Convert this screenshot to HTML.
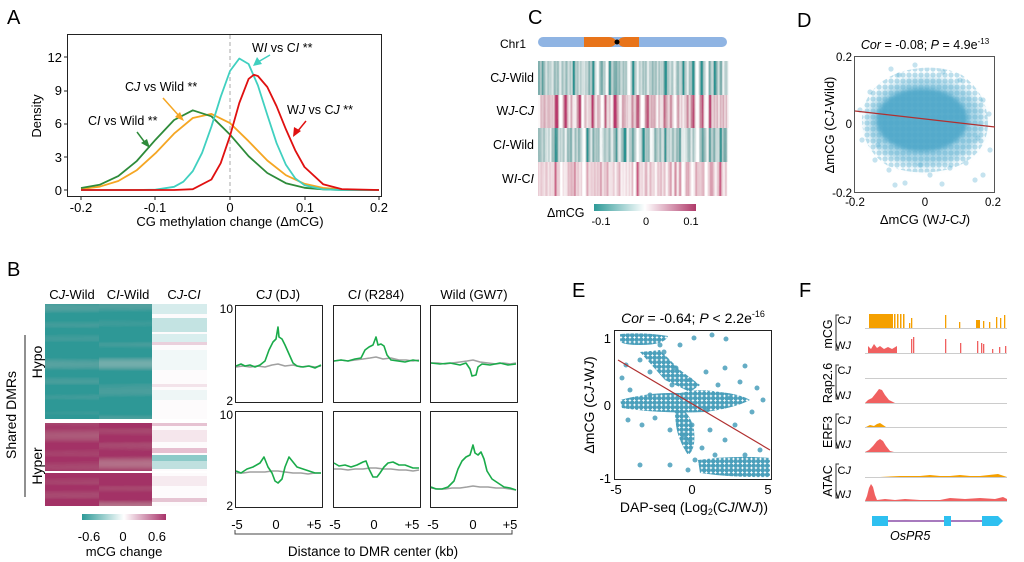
<!DOCTYPE html>
<html><head><meta charset="utf-8"><style>
html,body{margin:0;padding:0;background:#fff}
svg{display:block;font-family:"Liberation Sans",Arial,sans-serif}
</style></head><body>
<svg width="1024" height="562" viewBox="0 0 1024 562" xmlns="http://www.w3.org/2000/svg">
<defs>
<linearGradient id="gb" x1="0" x2="1"><stop offset="0" stop-color="#2e9a98"/><stop offset="0.5" stop-color="#fff"/><stop offset="1" stop-color="#a8336a"/></linearGradient>
<linearGradient id="gc" x1="0" x2="1"><stop offset="0" stop-color="#2e9a98"/><stop offset="0.5" stop-color="#fff"/><stop offset="1" stop-color="#b03a6a"/></linearGradient>
<filter id="sx1" x="0" y="0" width="1" height="1"><feTurbulence type="fractalNoise" baseFrequency="0.22 0.0005" numOctaves="2" seed="3"/><feColorMatrix type="matrix" values="0 0 0 0 1 0 0 0 0 1 0 0 0 0 1 2.6 0 0 0 -0.85"/><feComposite in2="SourceGraphic" operator="atop"/></filter>
<filter id="sx2" x="0" y="0" width="1" height="1"><feTurbulence type="fractalNoise" baseFrequency="0.22 0.0005" numOctaves="2" seed="11"/><feColorMatrix type="matrix" values="0 0 0 0 1 0 0 0 0 1 0 0 0 0 1 2.6 0 0 0 -0.8"/><feComposite in2="SourceGraphic" operator="atop"/></filter>
<filter id="sx3" x="0" y="0" width="1" height="1"><feTurbulence type="fractalNoise" baseFrequency="0.22 0.0005" numOctaves="2" seed="25"/><feColorMatrix type="matrix" values="0 0 0 0 1 0 0 0 0 1 0 0 0 0 1 2.6 0 0 0 -0.85"/><feComposite in2="SourceGraphic" operator="atop"/></filter>
<filter id="sx4" x="0" y="0" width="1" height="1"><feTurbulence type="fractalNoise" baseFrequency="0.22 0.0005" numOctaves="2" seed="40"/><feColorMatrix type="matrix" values="0 0 0 0 1 0 0 0 0 1 0 0 0 0 1 2.4 0 0 0 -0.6"/><feComposite in2="SourceGraphic" operator="atop"/></filter>
<filter id="sy1" x="0" y="0" width="1" height="1"><feTurbulence type="fractalNoise" baseFrequency="0.0005 0.07" numOctaves="1" seed="5"/><feColorMatrix type="matrix" values="0 0 0 0 1 0 0 0 0 1 0 0 0 0 1 0.6 0 0 0 -0.3"/><feComposite in2="SourceGraphic" operator="atop"/></filter>
<filter id="sy2" x="0" y="0" width="1" height="1"><feTurbulence type="fractalNoise" baseFrequency="0.0005 0.07" numOctaves="1" seed="9"/><feColorMatrix type="matrix" values="0 0 0 0 1 0 0 0 0 1 0 0 0 0 1 0.6 0 0 0 -0.3"/><feComposite in2="SourceGraphic" operator="atop"/></filter>
<filter id="bl3"><feGaussianBlur stdDeviation="4"/></filter>
<filter id="bl2"><feGaussianBlur stdDeviation="2"/></filter>
<pattern id="dp" width="4.5" height="4.5" patternUnits="userSpaceOnUse"><circle cx="2.2" cy="2.2" r="2.3" fill="#4a9fbb"/></pattern>
<pattern id="dq" width="6" height="6" patternUnits="userSpaceOnUse"><circle cx="3" cy="3" r="2.6" fill="#5aaed0" fill-opacity="0.4"/></pattern>
<clipPath id="cd"><rect x="855" y="57" width="139" height="135"/></clipPath>
</defs>
<g font-size="20"><text x="7" y="24">A</text><text x="7" y="276">B</text><text x="528" y="24">C</text><text x="797" y="27">D</text><text x="572" y="297">E</text><text x="799" y="297">F</text></g>

<!-- Panel A -->
<rect x="67.5" y="34.5" width="314" height="162" fill="none" stroke="#222"/>
<line x1="230" y1="35" x2="230" y2="196" stroke="#aaa" stroke-dasharray="4,3"/>
<g fill="none" stroke-width="1.8" stroke-linejoin="round">
<polyline stroke="#f5a623" points="81,189 99.6,186.7 118.3,181 136.9,170.1 155.5,153.2 174.1,133.6 192.8,118 211.4,113.9 230,123.1 248.6,141.2 267.3,160.5 285.9,175.2 304.5,183.8 323.1,187.9 341.8,189.4 360.4,190 379,190"/>
<polyline stroke="#2e8b3a" points="81,188 99.6,184.8 118.3,176.1 136.9,160.9 155.5,139.7 174.1,120 192.8,110.3 211.4,116.3 230,134.6 248.6,156.2 267.3,173 285.9,183.2 304.5,187.8 323.1,189.4 341.8,190 379,190"/>
<polyline stroke="#40d0c0" points="81,190 136.9,190 155.5,189.7 174.1,186.8 183.4,181.7 192.8,171.1 202.1,152.8 211.4,126.7 220.7,96.8 230,71 239.3,58.5 248.6,64 257.9,85.4 267.3,114.9 276.6,143.2 285.9,164.8 295.2,178.3 304.5,185.2 323.1,189.4 341.8,190 379,190"/>
<polyline stroke="#e01010" points="81,190 174.1,190 192.8,189.2 211.4,179.5 220.7,163.2 230,135.9 239.3,103 248.6,78.9 253.8,74.8 257.9,76 267.3,87 276.6,106.3 285.9,129.3 295.2,150.3 304.5,167 323.1,184.2 341.8,189.1 379,190"/>
</g>
<g font-size="13" text-anchor="end">
<text x="62" y="195">0</text><text x="62" y="162">3</text><text x="62" y="128">6</text><text x="62" y="95">9</text><text x="62" y="62">12</text>
</g>
<g stroke="#222"><line x1="64" y1="190" x2="67" y2="190"/><line x1="64" y1="157" x2="67" y2="157"/><line x1="64" y1="124" x2="67" y2="124"/><line x1="64" y1="91" x2="67" y2="91"/><line x1="64" y1="57" x2="67" y2="57"/>
<line x1="81" y1="197" x2="81" y2="200"/><line x1="155" y1="197" x2="155" y2="200"/><line x1="230" y1="197" x2="230" y2="200"/><line x1="305" y1="197" x2="305" y2="200"/><line x1="379" y1="197" x2="379" y2="200"/></g>
<g font-size="13" text-anchor="middle">
<text x="81" y="212">-0.2</text><text x="155" y="212">-0.1</text><text x="230" y="212">0</text><text x="305" y="212">0.1</text><text x="379" y="212">0.2</text>
<text x="230" y="226">CG methylation change (ΔmCG)</text>
<text transform="translate(41,116) rotate(-90)">Density</text>
</g>
<g font-size="12.5">
<text x="88" y="125">C<tspan font-style="italic">I</tspan> vs Wild **</text>
<text x="125" y="91">C<tspan font-style="italic">J</tspan> vs Wild **</text>
<text x="252" y="52">W<tspan font-style="italic">I</tspan> vs C<tspan font-style="italic">I</tspan> **</text>
<text x="287" y="114">W<tspan font-style="italic">J</tspan> vs C<tspan font-style="italic">J</tspan> **</text>
</g>
<g stroke-width="1.5">
<line x1="137" y1="132" x2="146" y2="144" stroke="#2e8b3a"/><polygon points="150,148 141,143 147,139" fill="#2e8b3a"/>
<line x1="163" y1="98" x2="180" y2="117" stroke="#f5a623"/><polygon points="184,121 175,117 180,112" fill="#f5a623"/>
<line x1="270" y1="55" x2="258" y2="62" stroke="#40d0c0"/><polygon points="253,66 257,57 262,64" fill="#40d0c0"/>
<line x1="306" y1="121" x2="297" y2="132" stroke="#e01010"/><polygon points="293,137 294,127 301,131" fill="#e01010"/>
</g>

<!-- Panel B heatmap -->
<rect x="45" y="304" width="54" height="115" fill="#2e9896" filter="url(#sy1)"/>
<rect x="99" y="304" width="53" height="115" fill="#2e9896" filter="url(#sy2)"/>
<rect x="45" y="423" width="54" height="83" fill="#a33366" filter="url(#sy2)"/>
<rect x="99" y="423" width="53" height="83" fill="#a33366" filter="url(#sy1)"/>
<rect x="152" y="304" width="55" height="202" fill="#fdfbfc"/>
<g>
<rect x="152" y="304" width="55" height="10" fill="#d6ecec"/><rect x="152" y="318" width="55" height="14" fill="#c3e3e2"/><rect x="152" y="334" width="55" height="8" fill="#d9eeee"/><rect x="152" y="342" width="55" height="3" fill="#ead0dc"/>
<rect x="152" y="350" width="55" height="20" fill="#f1f8f8"/><rect x="152" y="384" width="55" height="3" fill="#f3e3ea"/><rect x="152" y="390" width="55" height="10" fill="#eef6f6"/>
<rect x="152" y="423" width="55" height="3" fill="#e6c2d2"/><rect x="152" y="430" width="55" height="12" fill="#f5e6ec"/><rect x="152" y="448" width="55" height="5" fill="#e6bfd0"/><rect x="152" y="455" width="55" height="6" fill="#8ccac8"/><rect x="152" y="461" width="55" height="8" fill="#bfe0df"/>
<rect x="152" y="476" width="55" height="10" fill="#f6eaef"/><rect x="152" y="498" width="55" height="4" fill="#e6c5d3"/>
</g>
<rect x="45" y="419" width="162" height="4" fill="#fff"/>
<rect x="45" y="471" width="162" height="2" fill="#fff"/>
<g font-size="13" text-anchor="middle">
<text x="72" y="299">C<tspan font-style="italic">J</tspan>-Wild</text>
<text x="128" y="299">C<tspan font-style="italic">I</tspan>-Wild</text>
<text x="184" y="299">C<tspan font-style="italic">J</tspan>-C<tspan font-style="italic">I</tspan></text>
<text transform="translate(42,362) rotate(-90)" font-size="14">Hypo</text>
<text transform="translate(42,466) rotate(-90)" font-size="14">Hyper</text>
<text transform="translate(16,415) rotate(-90)" font-size="14">Shared DMRs</text>
<text x="89" y="541">-0.6</text><text x="123" y="541">0</text><text x="157" y="541">0.6</text>
<text x="124" y="556">mCG change</text>
</g>
<line x1="25" y1="335" x2="25" y2="497" stroke="#222"/>
<rect x="82" y="514" width="84" height="6" fill="url(#gb)"/>

<!-- Panel B line plots -->
<g fill="none" stroke-width="1.6" stroke-linejoin="round">
<g transform="translate(235,305)"><rect x="0.5" y="0.5" width="87" height="97" stroke="#222" stroke-width="1"/>
<polyline stroke="#a0a0a0" points="1,62 8,61 15,62 22,61 30,62 37,60 43,59 50,61 58,60 66,62 73,61 80,62 86,61"/>
<polyline stroke="#1aab4a" points="1,61 6,59 10,61 15,60 20,62 25,60 30,56 34,45 38,37 41,34 43,22 44,32 47,34 50,40 54,49 58,58 62,61 68,62 74,61 80,63 86,60"/></g>
<g transform="translate(333,305)"><rect x="0.5" y="0.5" width="87" height="97" stroke="#222" stroke-width="1"/>
<polyline stroke="#a0a0a0" points="1,56 8,55 15,56 22,55 30,54 37,53 43,52 50,54 58,53 66,55 73,55 80,56 86,55"/>
<polyline stroke="#1aab4a" points="1,56 8,55 15,56 22,54 28,53 32,45 36,42 40,40 43,32 45,40 48,39 51,41 54,50 58,55 65,56 72,57 80,55 86,56"/></g>
<g transform="translate(430,305)"><rect x="0.5" y="0.5" width="87" height="97" stroke="#222" stroke-width="1"/>
<polyline stroke="#a0a0a0" points="1,58 8,58 15,59 22,58 30,57 37,56 43,55 50,57 58,58 66,59 73,58 80,59 86,58"/>
<polyline stroke="#1aab4a" points="1,58 10,59 20,58 30,60 36,58 40,64 42,71 46,70 48,62 52,59 60,60 70,58 78,60 86,59"/></g>
<g transform="translate(235,411)"><rect x="0.5" y="0.5" width="87" height="96" stroke="#222" stroke-width="1"/>
<polyline stroke="#a0a0a0" points="1,62 8,62 15,61 22,61 30,61 37,60 43,60 50,61 58,62 66,62 73,63 80,62 86,62"/>
<polyline stroke="#1aab4a" points="1,60 6,62 12,58 18,56 25,52 29,46 33,56 37,62 40,70 43,72 47,68 50,56 54,46 58,51 62,56 68,58 74,60 80,62 86,62"/></g>
<g transform="translate(333,411)"><rect x="0.5" y="0.5" width="87" height="96" stroke="#222" stroke-width="1"/>
<polyline stroke="#a0a0a0" points="1,58 8,58 15,59 22,58 30,58 37,57 43,57 50,58 58,58 66,59 73,59 80,60 86,59"/>
<polyline stroke="#1aab4a" points="1,52 6,55 12,54 18,56 24,54 30,51 33,50 36,58 40,66 44,66 47,62 51,56 55,52 60,51 66,54 72,54 80,57 86,57"/></g>
<g transform="translate(430,411)"><rect x="0.5" y="0.5" width="87" height="96" stroke="#222" stroke-width="1"/>
<polyline stroke="#a0a0a0" points="1,77 8,78 15,78 22,77 30,77 37,76 43,75 50,76 58,76 66,77 73,77 80,78 86,79"/>
<polyline stroke="#1aab4a" points="1,76 6,78 12,78 18,76 24,70 28,58 32,50 36,46 40,44 43,34 45,42 48,44 51,41 54,48 57,60 62,68 68,72 74,76 80,77 86,79"/></g>
</g>
<g font-size="13" text-anchor="middle">
<text x="278" y="299">C<tspan font-style="italic">J</tspan> (DJ)</text>
<text x="376" y="299">C<tspan font-style="italic">I</tspan> (R284)</text>
<text x="474" y="299">Wild (GW7)</text>
<text x="237" y="529">-5</text><text x="276" y="529">0</text><text x="314" y="529">+5</text>
<text x="335" y="529">-5</text><text x="374" y="529">0</text><text x="412" y="529">+5</text>
<text x="433" y="529">-5</text><text x="473" y="529">0</text><text x="510" y="529">+5</text>
<text x="373" y="556" font-size="13.5">Distance to DMR center (kb)</text>
</g>
<g font-size="12" text-anchor="end"><text x="233" y="313">10</text><text x="233" y="405">2</text><text x="233" y="419">10</text><text x="233" y="510">2</text></g>
<path d="M235,530 V534 H512 V530" fill="none" stroke="#444"/>

<!-- Panel C -->
<text x="500" y="48" font-size="12">Chr1</text>
<rect x="538" y="37" width="189" height="10" rx="5" fill="#8fb4e3"/>
<path d="M584,37 H609 Q614,37 617,42 Q620,37 625,37 H639 V47 H625 Q620,47 617,42 Q614,47 609,47 H584Z" fill="#e8741a"/>
<circle cx="617" cy="42" r="2.5" fill="#000"/>
<rect x="538" y="61" width="191" height="34" fill="#2a9290" filter="url(#sx1)"/>
<rect x="538" y="95" width="191" height="33" fill="#b8386c" filter="url(#sx2)"/>
<rect x="538" y="128" width="191" height="34" fill="#2a9290" filter="url(#sx3)"/>
<rect x="538" y="162" width="191" height="34" fill="#c8557f" filter="url(#sx4)"/>
<g font-size="12.5" text-anchor="end">
<text x="534" y="82">C<tspan font-style="italic">J</tspan>-Wild</text>
<text x="534" y="115">W<tspan font-style="italic">J</tspan>-C<tspan font-style="italic">J</tspan></text>
<text x="534" y="149">C<tspan font-style="italic">I</tspan>-Wild</text>
<text x="534" y="183">W<tspan font-style="italic">I</tspan>-C<tspan font-style="italic">I</tspan></text>
</g>
<rect x="594" y="204" width="102" height="7" fill="url(#gc)"/>
<text x="547" y="217" font-size="12.5">ΔmCG</text>
<g font-size="11" text-anchor="middle"><text x="601" y="225">-0.1</text><text x="646" y="225">0</text><text x="691" y="225">0.1</text></g>

<!-- Panel D -->
<g clip-path="url(#cd)">
<path d="M862,118 Q864,86 900,72 Q935,62 962,75 Q988,94 988,125 Q986,156 953,168 Q920,178 888,166 Q862,150 862,118Z" fill="url(#dq)"/>
<ellipse cx="925" cy="122" rx="58" ry="44" fill="#5aaed0" fill-opacity="0.5" filter="url(#bl3)"/>
<ellipse cx="922" cy="120" rx="46" ry="32" fill="#4aa6c8" fill-opacity="0.85" filter="url(#bl2)"/>
<g fill="#5aaed0" fill-opacity="0.35">
<circle cx="891" cy="69" r="2.6"/><circle cx="899" cy="75" r="2.6"/><circle cx="943" cy="72" r="2.6"/><circle cx="960" cy="80" r="2.6"/><circle cx="983" cy="100" r="2.6"/><circle cx="989" cy="114" r="2.6"/><circle cx="870" cy="92" r="2.6"/><circle cx="862" cy="140" r="2.6"/><circle cx="875" cy="160" r="2.6"/><circle cx="889" cy="170" r="2.6"/><circle cx="905" cy="183" r="2.6"/><circle cx="930" cy="175" r="2.6"/><circle cx="950" cy="168" r="2.6"/><circle cx="966" cy="163" r="2.6"/><circle cx="983" cy="175" r="2.6"/><circle cx="990" cy="150" r="2.6"/><circle cx="878" cy="145" r="2.6"/><circle cx="920" cy="165" r="2.6"/><circle cx="915" cy="65" r="2.6"/><circle cx="978" cy="138" r="2.6"/><circle cx="860" cy="110" r="2.6"/><circle cx="895" cy="185" r="2.6"/><circle cx="942" cy="184" r="2.6"/><circle cx="975" cy="180" r="2.6"/>
</g></g>
<rect x="854.5" y="56.5" width="140" height="136" fill="none" stroke="#555"/>
<line x1="855" y1="111" x2="995" y2="127" stroke="#b03030" stroke-width="1.2"/>
<text x="925" y="49" font-size="12.5" text-anchor="middle"><tspan font-style="italic">Cor</tspan> = -0.08; <tspan font-style="italic">P</tspan> = 4.9e<tspan font-size="8" dy="-5">-13</tspan></text>
<g font-size="11.5" text-anchor="end"><text x="852" y="61">0.2</text><text x="852" y="128">0</text><text x="852" y="197">-0.2</text></g>
<g font-size="11.5" text-anchor="middle"><text x="855" y="206">-0.2</text><text x="925" y="206">0</text><text x="993" y="206">0.2</text>
<text x="925" y="224" font-size="13">ΔmCG (W<tspan font-style="italic">J</tspan>-C<tspan font-style="italic">J</tspan>)</text>
<text transform="translate(834,125) rotate(-90)" font-size="13">ΔmCG (C<tspan font-style="italic">J</tspan>-Wild)</text></g>

<!-- Panel E -->
<g fill="url(#dp)">
<path d="M620,400 Q650,392 680,393 Q700,388 720,392 Q740,394 750,400 Q735,408 705,412 Q660,414 622,408Z"/>
<path d="M674,405 Q690,410 694,430 Q696,450 688,455 Q678,440 676,425Z"/>
<path d="M698,460 Q735,455 770,458 L770,477 Q735,478 700,473Z"/>
<path d="M620,334 Q645,332 668,336 Q665,345 640,345 Q625,345 620,342Z"/>
<path d="M640,352 L660,350 L680,370 L700,385 L690,392 L665,380Z"/>
</g>
<g fill="#4a9fbb" fill-opacity="0.85">
<circle cx="626" cy="365" r="2.5"/><circle cx="622" cy="378" r="2.5"/><circle cx="630" cy="390" r="2.5"/><circle cx="640" cy="360" r="2.5"/><circle cx="650" cy="372" r="2.5"/><circle cx="664" cy="352" r="2.5"/><circle cx="672" cy="385" r="2.5"/><circle cx="680" cy="345" r="2.5"/><circle cx="694" cy="338" r="2.5"/><circle cx="712" cy="335" r="2.5"/><circle cx="726" cy="339" r="2.5"/><circle cx="706" cy="372" r="2.5"/><circle cx="718" cy="385" r="2.5"/><circle cx="740" cy="382" r="2.5"/><circle cx="757" cy="388" r="2.5"/><circle cx="763" cy="400" r="2.5"/><circle cx="752" cy="412" r="2.5"/><circle cx="735" cy="425" r="2.5"/><circle cx="725" cy="440" r="2.5"/><circle cx="710" cy="430" r="2.5"/><circle cx="702" cy="448" r="2.5"/><circle cx="670" cy="430" r="2.5"/><circle cx="655" cy="418" r="2.5"/><circle cx="642" cy="425" r="2.5"/><circle cx="628" cy="420" r="2.5"/><circle cx="695" cy="460" r="2.5"/><circle cx="688" cy="470" r="2.5"/><circle cx="670" cy="465" r="2.5"/><circle cx="640" cy="465" r="2.5"/><circle cx="660" cy="345" r="2.5"/><circle cx="676" cy="368" r="2.5"/><circle cx="690" cy="380" r="2.5"/><circle cx="745" cy="455" r="2.5"/><circle cx="760" cy="450" r="2.5"/><circle cx="715" cy="455" r="2.5"/><circle cx="650" cy="395" r="2.5"/><circle cx="692" cy="425" r="2.5"/><circle cx="684" cy="435" r="2.5"/><circle cx="730" cy="398" r="2.5"/><circle cx="707" cy="410" r="2.5"/><circle cx="725" cy="368" r="2.5"/><circle cx="745" cy="366" r="2.5"/><circle cx="690" cy="440" r="2.5"/>
</g>
<rect x="614.5" y="330.5" width="157" height="149" fill="none" stroke="#222"/>
<line x1="618" y1="360" x2="770" y2="450" stroke="#b03030" stroke-width="1.2"/>
<text x="693" y="323" font-size="14" text-anchor="middle"><tspan font-style="italic">Cor</tspan> = -0.64; <tspan font-style="italic">P</tspan> &lt; 2.2e<tspan font-size="9" dy="-6">-16</tspan></text>
<g font-size="13" text-anchor="end"><text x="611" y="343">1</text><text x="611" y="410">0</text><text x="611" y="483">-1</text></g>
<g font-size="13" text-anchor="middle"><text x="616" y="494">-5</text><text x="692" y="494">0</text><text x="768" y="494">5</text>
<text x="694" y="512" font-size="14">DAP-seq (Log<tspan font-size="9" dy="3">2</tspan><tspan dy="-3">(C</tspan><tspan font-style="italic">J</tspan>/W<tspan font-style="italic">J</tspan>))</text>
<text transform="translate(594,405) rotate(-90)" font-size="14">ΔmCG (C<tspan font-style="italic">J</tspan>-W<tspan font-style="italic">J</tspan>)</text></g>

<!-- Panel F -->
<g stroke="#ccc"><line x1="865" y1="328.5" x2="1007" y2="328.5"/><line x1="865" y1="353.5" x2="1007" y2="353.5"/><line x1="865" y1="378.5" x2="1007" y2="378.5"/><line x1="865" y1="403.5" x2="1007" y2="403.5"/><line x1="865" y1="427.5" x2="1007" y2="427.5"/><line x1="865" y1="452.5" x2="1007" y2="452.5"/><line x1="865" y1="477.5" x2="1007" y2="477.5"/><line x1="865" y1="501.5" x2="1007" y2="501.5"/></g>
<g fill="#f5a000">
<rect x="869" y="314" width="24" height="14"/><rect x="894" y="314" width="1.5" height="14"/><rect x="897" y="314" width="1.5" height="14"/><rect x="900" y="314" width="1.5" height="14"/><rect x="903" y="314" width="1.5" height="14"/>
<rect x="909" y="323" width="1.3" height="5"/><rect x="911" y="318" width="1.3" height="10"/><rect x="945" y="315" width="1.3" height="13"/><rect x="959" y="322" width="1.3" height="6"/><rect x="976" y="320" width="4" height="8"/><rect x="983" y="321" width="1.3" height="7"/><rect x="989" y="322" width="1.3" height="6"/><rect x="996" y="317" width="1.3" height="11"/><rect x="1000" y="318" width="1.3" height="10"/><rect x="1004" y="315" width="1.3" height="13"/>
</g>
<g fill="#f06060">
<path d="M868,353 L868,346 L871,349 L874,344 L877,348 L880,346 L884,349 L888,347 L892,349 L897,346 L897,353Z"/>
<rect x="911" y="339" width="1.3" height="14"/><rect x="913" y="337" width="1.3" height="16"/><rect x="945" y="339" width="1.3" height="14"/><rect x="960" y="343" width="1.3" height="10"/><rect x="977" y="341" width="1.3" height="12"/><rect x="981" y="343" width="1.3" height="10"/><rect x="983" y="344" width="1.3" height="9"/><rect x="992" y="349" width="1.3" height="4"/><rect x="999" y="347" width="1.3" height="6"/><rect x="1005" y="346" width="1.3" height="7"/>
<path d="M865,403 L868,400 L872,398 L876,393 L879,389 L882,390 L885,395 L889,400 L895,403Z"/>
<path d="M865,452 L869,450 L873,446 L877,441 L880,439 L883,441 L886,446 L890,451 L894,452Z"/>
<path d="M865,501 L867,496 L869,488 L871,484 L873,487 L875,495 L877,500 L885,499 L895,500 L905,499 L920,500 L940,500 L950,498 L965,499 L980,498 L995,499 L1003,497 L1007,499 L1007,501Z"/>
</g>
<g fill="#f5a000">
<path d="M866,427 L870,425 L874,426 L877,424 L880,423 L883,425 L886,427Z"/>
<path d="M880,477 L900,476 L920,476 L930,475 L940,476 L950,476 L960,475 L970,476 L980,476 L998,474 L1007,477Z"/>
</g>
<g font-size="11" text-anchor="end">
<text x="851" y="324">C<tspan font-style="italic">J</tspan></text><text x="851" y="349">W<tspan font-style="italic">J</tspan></text>
<text x="851" y="374">C<tspan font-style="italic">J</tspan></text><text x="851" y="399">W<tspan font-style="italic">J</tspan></text>
<text x="851" y="424">C<tspan font-style="italic">J</tspan></text><text x="851" y="448">W<tspan font-style="italic">J</tspan></text>
<text x="851" y="474">C<tspan font-style="italic">J</tspan></text><text x="851" y="498">W<tspan font-style="italic">J</tspan></text>
</g>
<g font-size="12.5" text-anchor="middle">
<text transform="translate(832,334) rotate(-90)">mCG</text>
<text transform="translate(832,383) rotate(-90)">Rap2.6</text>
<text transform="translate(832,432) rotate(-90)">ERF3</text>
<text transform="translate(832,481) rotate(-90)">ATAC</text>
</g>
<g fill="none" stroke="#333"><path d="M839,315 H836 V350 H839"/><path d="M839,365 H836 V399 H839"/><path d="M839,414 H836 V448 H839"/><path d="M839,464 H836 V498 H839"/></g>
<line x1="887" y1="521" x2="985" y2="521" stroke="#8a4fa8" stroke-width="1.5"/>
<rect x="872" y="516" width="16" height="10" fill="#2ec0f0"/>
<rect x="944" y="516" width="7" height="10" fill="#2ec0f0"/>
<path d="M982,516 H998 L1003,521 L998,526 H982Z" fill="#2ec0f0"/>
<text x="890" y="540" font-size="12.5" font-style="italic">OsPR5</text>
</svg>
</body></html>
